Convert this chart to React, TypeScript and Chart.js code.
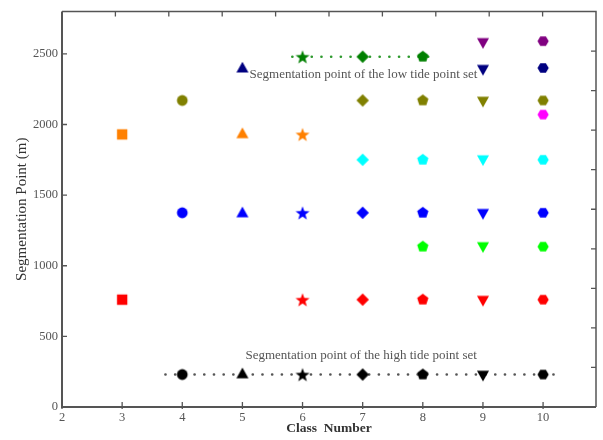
import React, { useEffect, useRef } from "react";
import { Chart, registerables } from "chart.js";

Chart.register(...registerables);

// ---- data ----
const classNumbers = [3, 4, 5, 6, 7, 8, 9, 10];
const class3Values = [760, 1930];
const class4Values = [230, 1375, 2170];
const class5Values = [235, 1375, 1935, 2400];
const class6Values = [230, 760, 1375, 1930, 2480];
const class7Values = [230, 760, 1375, 1750, 2170, 2480];
const class8Values = [230, 760, 1135, 1375, 1750, 2170, 2480];
const class9Values = [225, 755, 1135, 1370, 1750, 2165, 2390, 2580];
const class10Values = [230, 760, 1135, 1375, 1750, 2070, 2170, 2400, 2590];

const class3Colors = ["#ff0000", "#ff8000"];
const class4Colors = ["#000000", "#0000ff", "#808000"];
const class5Colors = ["#000000", "#0000ff", "#ff8000", "#000080"];
const class6Colors = ["#000000", "#ff0000", "#0000ff", "#ff8000", "#008000"];
const class7Colors = ["#000000", "#ff0000", "#0000ff", "#00ffff", "#808000", "#008000"];
const class8Colors = ["#000000", "#ff0000", "#00ff00", "#0000ff", "#00ffff", "#808000", "#008000"];
const class9Colors = ["#000000", "#ff0000", "#00ff00", "#0000ff", "#00ffff", "#808000", "#000080", "#800080"];
const class10Colors = ["#000000", "#ff0000", "#00ff00", "#0000ff", "#00ffff", "#ff00ff", "#808000", "#000080", "#800080"];

const classShapes = ["square", "circle", "triangle", "star", "diamond", "pentagon", "triangleDown", "hexagon"];

const xTicks = [2, 3, 4, 5, 6, 7, 8, 9, 10];
const yTicks = [0, 500, 1000, 1500, 2000, 2500];
const xMin = 2;
const xMax = 10.88;
const yMin = 0;
const yMax = 2800;

const lowTideLineX = [5.83, 8.22];
const lowTideLineY = 2480;
const highTideLineX = [3.72, 10.33];
const highTideLineY = 230;

const lowTideLabel = "Segmentation point of the low tide point set";
const lowTideLabelAt = [5.12, 2350];
const highTideLabel = "Segmentation point of the high tide point set";
const highTideLabelAt = [5.05, 365];

const mirrorDivisions = 10;

// ---- markers ----
const markerCache: Record<string, HTMLCanvasElement> = {};
function marker(shape: string, color: string): HTMLCanvasElement {
  const key = shape + color;
  if (markerCache[key]) return markerCache[key];
  const size = 18;
  const k = 1.08;
  const c = document.createElement("canvas");
  c.width = size;
  c.height = size;
  const g = c.getContext("2d")!;
  g.fillStyle = color;
  const cx = size / 2;
  const cy = size / 2;
  const poly = (n: number, r: number, rot: number) => {
    g.beginPath();
    for (let i = 0; i < n; i++) {
      const a = rot + (i * 2 * Math.PI) / n;
      const px = cx + r * k * Math.cos(a);
      const py = cy + r * k * Math.sin(a);
      if (i === 0) g.moveTo(px, py);
      else g.lineTo(px, py);
    }
    g.closePath();
    g.fill();
  };
  switch (shape) {
    case "square":
      g.fillRect(cx - 4.8 * k, cy - 4.8 * k, 9.6 * k, 9.6 * k);
      break;
    case "circle":
      g.beginPath();
      g.arc(cx, cy, 5 * k, 0, Math.PI * 2);
      g.fill();
      break;
    case "triangle":
      g.beginPath();
      g.moveTo(cx, cy - 5.8 * k);
      g.lineTo(cx + 5.6 * k, cy + 4.2 * k);
      g.lineTo(cx - 5.6 * k, cy + 4.2 * k);
      g.closePath();
      g.fill();
      break;
    case "triangleDown":
      g.beginPath();
      g.moveTo(cx, cy + 5.8 * k);
      g.lineTo(cx + 5.6 * k, cy - 4.2 * k);
      g.lineTo(cx - 5.6 * k, cy - 4.2 * k);
      g.closePath();
      g.fill();
      break;
    case "diamond":
      poly(4, 5.8, 0);
      break;
    case "pentagon":
      poly(5, 5.5, -Math.PI / 2);
      break;
    case "hexagon":
      poly(6, 5.2, 0);
      break;
    case "star": {
      g.beginPath();
      const ro = 6.8 * k;
      const ri = 2.8 * k;
      for (let i = 0; i < 10; i++) {
        const r = i % 2 === 0 ? ro : ri;
        const a = -Math.PI / 2 + (i * Math.PI) / 5;
        const px = cx + r * Math.cos(a);
        const py = cy + 0.8 + r * Math.sin(a);
        if (i === 0) g.moveTo(px, py);
        else g.lineTo(px, py);
      }
      g.closePath();
      g.fill();
      break;
    }
  }
  markerCache[key] = c;
  return c;
}

const allValues = [class3Values, class4Values, class5Values, class6Values, class7Values, class8Values, class9Values, class10Values];
const allColors = [class3Colors, class4Colors, class5Colors, class6Colors, class7Colors, class8Colors, class9Colors, class10Colors];

const FONT = "'Liberation Serif', 'Times New Roman', serif";

const framePlugin = {
  id: "frame",
  afterDatasetsDraw(chart: any) {
    const { ctx, chartArea } = chart;
    const { left, right, top, bottom } = chartArea;
    const xs = chart.scales.x;
    const ys = chart.scales.y;
    ctx.save();
    // annotation labels
    ctx.font = `13px ${FONT}`;
    ctx.fillStyle = "#555555";
    ctx.textAlign = "left";
    ctx.textBaseline = "middle";
    ctx.fillText(lowTideLabel, xs.getPixelForValue(lowTideLabelAt[0]), ys.getPixelForValue(lowTideLabelAt[1]));
    ctx.fillText(highTideLabel, xs.getPixelForValue(highTideLabelAt[0]), ys.getPixelForValue(highTideLabelAt[1]));

    // frame
    ctx.strokeStyle = "#555555";
    ctx.lineWidth = 1.5;
    ctx.beginPath();
    ctx.moveTo(left, top);
    ctx.lineTo(right, top);
    ctx.lineTo(right, bottom);
    ctx.stroke();
    ctx.lineWidth = 2;
    ctx.beginPath();
    ctx.moveTo(left, top);
    ctx.lineTo(left, bottom);
    ctx.lineTo(right, bottom);
    ctx.stroke();

    // inward ticks
    ctx.lineWidth = 1.3;
    ctx.beginPath();
    const tl = 5;
    for (const v of xTicks) {
      const px = xs.getPixelForValue(v);
      ctx.moveTo(px, bottom + 2);
      ctx.lineTo(px, bottom - tl);
    }
    for (const v of yTicks) {
      const py = ys.getPixelForValue(v);
      ctx.moveTo(left, py);
      ctx.lineTo(left + tl, py);
    }
    for (let i = 1; i < mirrorDivisions; i++) {
      const px = left + ((right - left) * i) / mirrorDivisions;
      ctx.moveTo(px, top);
      ctx.lineTo(px, top + tl);
      const py = bottom - ((bottom - top) * i) / mirrorDivisions;
      ctx.moveTo(right, py);
      ctx.lineTo(right - tl, py);
    }
    ctx.stroke();
    ctx.restore();
  },
};

export default function App() {
  const ref = useRef<HTMLCanvasElement>(null);
  useEffect(() => {
    const datasets: any[] = classNumbers.map((cls, i) => ({
      type: "scatter",
      label: "Class " + cls,
      data: allValues[i].map((v) => ({ x: cls, y: v })),
      pointStyle: allColors[i].map((c) => marker(classShapes[i], c)),
      pointRadius: 6,
      order: 0,
    }));
    datasets.push({
      type: "line",
      label: "low tide",
      data: lowTideLineX.map((x) => ({ x, y: lowTideLineY })),
      borderColor: "#2e9a2e",
      borderWidth: 2.6,
      borderDash: [0.1, 9.6],
      borderCapStyle: "round",
      pointRadius: 0,
      fill: false,
      order: 5,
    });
    datasets.push({
      type: "line",
      label: "high tide",
      data: highTideLineX.map((x) => ({ x, y: highTideLineY })),
      borderColor: "#555555",
      borderWidth: 2.6,
      borderDash: [0.1, 9.6],
      borderCapStyle: "round",
      pointRadius: 0,
      fill: false,
      order: 5,
    });

    const chart = new Chart(ref.current!, {
      type: "scatter",
      data: { datasets },
      options: {
        animation: false,
        responsive: false,
        layout: { padding: { left: 0, right: 5, top: 7, bottom: 0 } },
        plugins: { legend: { display: false }, tooltip: { enabled: false } },
        scales: {
          x: {
            type: "linear",
            min: xMin,
            max: xMax,
            afterFit: (s: any) => {
              s.height = 33;
            },
            afterBuildTicks: (s: any) => {
              s.ticks = xTicks.map((v) => ({ value: v }));
            },
            grid: { display: false, drawTicks: false },
            border: { display: false },
            ticks: {
              padding: 3,
              color: "#555555",
              font: { family: FONT, size: 12.5 },
              maxRotation: 0,
              autoSkip: false,
              callback: (v: any) => String(v),
            },
            title: {
              display: true,
              text: "Class  Number",
              color: "#333333",
              font: { family: FONT, size: 13.5, weight: "bold" },
              padding: { top: 0, bottom: 3 },
            },
          },
          y: {
            type: "linear",
            min: yMin,
            max: yMax,
            afterFit: (s: any) => {
              s.width = 62;
            },
            afterBuildTicks: (s: any) => {
              s.ticks = yTicks.map((v) => ({ value: v }));
            },
            grid: { display: false, drawTicks: false },
            border: { display: false },
            ticks: {
              padding: 4,
              color: "#555555",
              font: { family: FONT, size: 12.5 },
              autoSkip: false,
              callback: (v: any) => String(v),
            },
            title: {
              display: true,
              text: "Segmentation Point (m)",
              color: "#333333",
              font: { family: FONT, size: 15 },
              padding: { top: 13, bottom: 0 },
            },
          },
        },
      },
      plugins: [framePlugin],
    } as any);
    return () => chart.destroy();
  }, []);
  return (
    <div style={{ position: "absolute", left: 0, top: 0, width: 603, height: 440, background: "#fff" }}>
      <canvas ref={ref} width={603} height={440} />
    </div>
  );
}
